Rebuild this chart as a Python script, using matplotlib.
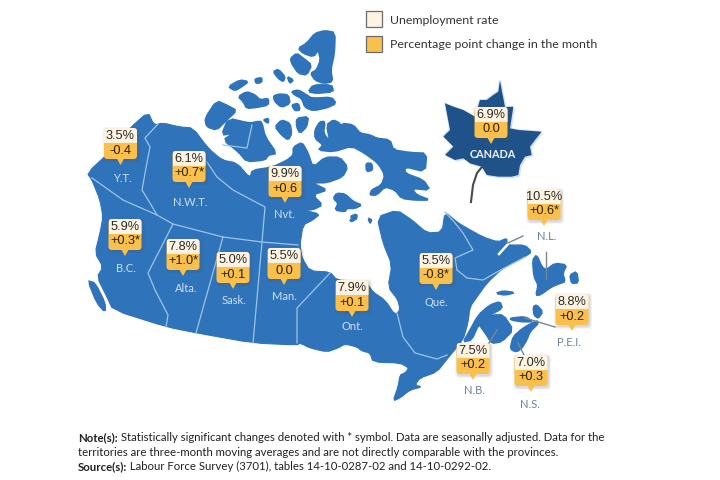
import matplotlib
matplotlib.use("Agg")
import matplotlib.pyplot as plt
from matplotlib.patches import Polygon, FancyBboxPatch, Rectangle

# labour force numbers
regions = ["Y.T.", "N.W.T.", "Nvt.", "B.C.", "Alta.", "Sask.", "Man.", "Ont.", "Que.", "N.B.", "N.S.", "P.E.I.", "N.L."]
rates = ["3.5%", "6.1%", "9.9%", "5.9%", "7.8%", "5.0%", "5.5%", "7.9%", "5.5%", "7.5%", "7.0%", "8.8%", "10.5%"]
changes = ["-0.4", "+0.7*", "+0.6", "+0.3*", "+1.0*", "+0.1", "0.0", "+0.1", "-0.8*", "+0.2", "+0.3", "+0.2", "+0.6*"]
canada_rate = "6.9%"
canada_change = "0.0"

# callout centre x, callout top y, label x, label y (pixels)
callout_x = [120.5, 189, 285, 125, 183, 233, 284, 352, 436, 473, 531, 572, 544]
callout_y = [128, 151, 166, 219, 239, 252, 248, 280, 253, 343, 355, 294, 189]
label_x = [122, 190, 284, 126, 186, 234, 284, 352, 436, 474, 530, 569, 547]
label_y = [179, 203, 215, 268, 288, 301, 297, 326, 303, 391, 405, 343, 237]
dark_labels = ["N.B.", "N.S.", "P.E.I.", "N.L."]

BLUE = "#2f73ba"
LINE = "#9fc4e6"
CREAM = "#fdf3e0"
ORANGE = "#f9c04e"


def zoomed(x0, y0, pts, s=3):
    return [(x0 + x / s, y0 + y / s) for x, y in pts]


def rounded(pts):
    # one pass of corner cutting so the coast is not so angular
    out = []
    for i in range(len(pts)):
        a = pts[i]
        b = pts[(i + 1) % len(pts)]
        out.append((0.8 * a[0] + 0.2 * b[0], 0.8 * a[1] + 0.2 * b[1]))
        out.append((0.2 * a[0] + 0.8 * b[0], 0.2 * a[1] + 0.8 * b[1]))
    return out


mainland = [
    (87, 173), (112, 150), (130, 128), (148, 112), (154, 125), (163, 123), (180, 127), (193, 128),
    (208, 148), (222, 160), (237, 163), (250, 178), (252, 170), (272, 167), (287, 160), (293, 155),
    (293, 147), (302, 142), (308, 152), (313, 167), (325, 157), (340, 157), (348, 167), (343, 177),
    (327, 183), (313, 183), (328, 190), (313, 195), (323, 205), (313, 210), (303, 210), (320, 214),
    (313, 220), (303, 225), (300, 245), (302, 258), (310, 271), (330, 272), (337, 280), (355, 281),
    (367, 283), (373, 292), (385, 300), (395, 315), (400, 310), (398, 300), (388, 287), (392, 265),
    (383, 243), (377, 217), (397, 210), (412, 220), (427, 233), (442, 232), (445, 212), (457, 222),
    (465, 227), (483, 237), (498, 242), (507, 238), (507, 245), (525, 245), (532, 252), (523, 258),
    (503, 268), (487, 283), (477, 297), (470, 307), (468, 323), (463, 340), (448, 358), (437, 372),
    (420, 378), (415, 385), (422, 387), (410, 390), (400, 398), (393, 401), (398, 387), (400, 375),
    (405, 373), (409, 368), (400, 363), (373, 362), (370, 353), (362, 351), (357, 347), (345, 344),
    (338, 348), (327, 352), (310, 348), (300, 343), (297, 345), (253, 343), (197, 333), (167, 327),
    (113, 310), (107, 297), (97, 277), (103, 267), (95, 253), (100, 233), (103, 217), (100, 200),
    (92, 180),
]
islands = [
    # vancouver island
    [(88, 281), (95, 283), (105, 303), (105, 312), (97, 303)],
    # arctic
    zoomed(200, 20, [(295, 85), (320, 70), (345, 40), (375, 32), (405, 38), (403, 100), (392, 150), (398, 185),
                     (370, 190), (345, 180), (332, 160), (350, 150), (362, 120), (355, 90), (340, 110), (310, 100)]),
    zoomed(200, 20, [(272, 115), (290, 100), (310, 115), (335, 135), (320, 165), (295, 160), (275, 130)]),
    zoomed(200, 20, [(325, 215), (340, 195), (395, 195), (400, 215), (350, 220)]),
    zoomed(200, 20, [(275, 215), (295, 210), (320, 225), (335, 235), (395, 232), (408, 250), (385, 262), (340, 272),
                     (315, 262), (305, 235), (285, 225)]),
    zoomed(200, 20, [(115, 230), (140, 215), (165, 225), (180, 240), (205, 235), (205, 255), (170, 262), (140, 265), (130, 245)]),
    zoomed(200, 20, [(85, 200), (120, 180), (145, 185), (125, 200), (105, 212)]),
    zoomed(200, 20, [(165, 177), (185, 173), (185, 187), (168, 190)]),
    zoomed(200, 20, [(220, 155), (235, 148), (255, 170), (250, 185), (235, 175)]),
    zoomed(200, 20, [(262, 170), (280, 180), (270, 190)]),
    zoomed(200, 20, [(220, 228), (240, 222), (265, 225), (270, 250), (245, 262), (225, 245)]),
    zoomed(200, 20, [(275, 255), (295, 250), (300, 270), (285, 272)]),
    zoomed(200, 20, [(15, 295), (50, 242), (85, 258), (110, 272), (80, 300), (50, 330), (20, 320)]),
    zoomed(200, 110, [(65, 75), (85, 25), (150, 40), (170, 35), (185, 35), (195, 80), (230, 130), (205, 135), (195, 150),
                      (140, 155), (115, 125), (70, 90), (100, 70)]),
    zoomed(200, 110, [(190, 30), (205, 25), (205, 40)]),
    zoomed(200, 110, [(225, 50), (245, 30), (270, 40), (275, 70), (265, 90), (245, 75)]),
    zoomed(200, 110, [(290, 25), (325, 20), (320, 50), (300, 70), (290, 50)]),
    zoomed(290, 110, [(75, 60), (90, 35), (105, 35), (100, 70), (120, 95), (110, 45), (130, 30), (150, 40), (160, 65),
                      (155, 40), (190, 45), (210, 70), (240, 75), (260, 85), (300, 90), (310, 120), (360, 128), (410, 130),
                      (405, 185), (345, 170), (345, 190), (400, 210), (420, 240), (365, 235), (380, 255), (420, 270), (375, 270),
                      (335, 265), (315, 240), (285, 230), (260, 255), (240, 255), (245, 240), (275, 225), (285, 195), (265, 160),
                      (225, 130), (185, 108), (130, 125), (85, 120), (100, 105), (75, 85)]),
    zoomed(290, 110, [(228, 160), (245, 160), (248, 180), (230, 185)]),
    zoomed(290, 110, [(130, 265), (140, 250), (165, 252), (190, 275), (215, 285), (195, 295), (170, 295), (165, 305), (135, 300), (145, 280)]),
    zoomed(290, 110, [(180, 320), (200, 312), (198, 330)]),
    zoomed(340, 200, [(30, 60), (50, 45), (50, 55), (35, 65)]),
    zoomed(340, 200, [(85, 55), (95, 60), (90, 70)]),
    # atlantic
    zoomed(340, 200, [(385, 400), (415, 345), (450, 315), (480, 305), (487, 325), (450, 345), (415, 375), (395, 420), (370, 425)]),
    zoomed(460, 240, [(55, 240), (100, 225), (130, 225), (160, 270), (125, 305), (95, 310), (80, 285), (55, 250)]),
    zoomed(460, 240, [(150, 235), (195, 230), (220, 245), (185, 245), (155, 240)]),
    zoomed(460, 240, [(220, 200), (230, 195), (248, 215), (235, 235), (222, 225)]),
    zoomed(340, 200, [(512, 440), (520, 410), (548, 385), (590, 362), (595, 370), (570, 395), (560, 420), (545, 445), (530, 455), (515, 450)]),
    zoomed(460, 240, [(218, 60), (230, 45), (245, 80), (258, 90), (285, 70), (320, 75), (308, 100), (315, 125), (300, 130),
                      (275, 140), (240, 165), (228, 165), (235, 135), (222, 110)]),
    zoomed(460, 240, [(330, 105), (350, 95), (355, 128), (335, 130)]),
    zoomed(460, 240, [(108, 160), (130, 153), (165, 158), (135, 165)]),
]
borders = [
    [(158, 124), (145, 138), (150, 147), (148, 157), (142, 190), (150, 203), (157, 215)],
    [(92, 178), (123, 200), (157, 215), (173, 224), (223, 237), (262, 242), (298, 245)],
    [(207, 162), (217, 177), (233, 190), (265, 207), (262, 242), (253, 343)],
    [(173, 224), (148, 273), (155, 290), (168, 315), (166, 327)],
    [(223, 237), (196, 333)],
    [(330, 273), (297, 308), (297, 343)],
    [(397, 313), (403, 337), (415, 353), (437, 359), (447, 355)],
    [(445, 212), (455, 223), (463, 233), (473, 250), (455, 258), (457, 270), (467, 278), (483, 280), (497, 272), (525, 257)],
    [(252, 125), (247, 148), (223, 145)],
]
leaders = [
    [(523, 236), (508, 243)],
    [(546, 252), (546, 279)],
    [(525, 318), (555, 327)],
    [(497, 330), (489, 343)],
    [(518, 343), (524, 355)],
]
leaf = zoomed(430, 75, [(210, 15), (216, 50), (222, 80), (225, 97), (250, 95), (240, 160), (265, 165), (335, 170), (315, 195),
                        (300, 215), (305, 240), (285, 245), (270, 270), (265, 300), (245, 305), (205, 305), (170, 300), (155, 275),
                        (120, 265), (100, 250), (75, 255), (45, 240), (70, 215), (40, 185), (60, 165), (45, 85), (70, 95), (100, 105),
                        (135, 125), (150, 75), (170, 75), (190, 60), (205, 50)])

fig = plt.figure(figsize=(7.2, 4.8), dpi=100)
ax = fig.add_axes([0, 0, 1, 1])
ax.set_xlim(0, 720)
ax.set_ylim(480, 0)
ax.axis("off")

ax.add_patch(Polygon(rounded(mainland), closed=True, fc=BLUE, ec=BLUE, lw=0.8, zorder=2))
for isl in islands:
    ax.add_patch(Polygon(rounded(isl), closed=True, fc=BLUE, ec=BLUE, lw=1.3, zorder=2))
for b in borders:
    ax.plot([p[0] for p in b], [p[1] for p in b], color=LINE, lw=0.9, zorder=3)
# hamilton inlet
ax.plot([499, 509], [254, 243], color="white", lw=1.8, zorder=3)
for l in leaders:
    ax.plot([p[0] for p in l], [p[1] for p in l], color="#77879a", lw=1.0, zorder=3)

# maple leaf with its pale edge
ax.add_patch(Polygon([(x + 1.5, y + 1.5) for x, y in leaf], closed=True, fc="#cfe0f0", ec="none", zorder=2))
ax.add_patch(Polygon([(x - 1, y - 1) for x, y in leaf], closed=True, fc="#d5e3f1", ec="none", zorder=2))
ax.add_patch(Polygon(leaf, closed=True, fc="#1f5288", ec="none", zorder=3))
ax.plot([482, 477, 473, 471], [167, 173, 185, 202], color="#454a50", lw=1.5, zorder=3)
ax.text(493, 154, "CANADA", color="#f2f5f8", fontsize=7.8, fontweight="bold", family="Lato", ha="center", va="center", zorder=4)


def callout(cx, top, rate, change):
    w, h = 33, 31
    x0 = cx - w / 2
    for grow, a in [(2.5, 0.06), (1.5, 0.08), (0.7, 0.1)]:
        ax.add_patch(FancyBboxPatch((x0 + 1.2 - grow, top + 1.5 - grow), w + 2 * grow, h + 2 * grow,
                                    boxstyle="round,pad=0,rounding_size=4", fc="#555555", ec="none", alpha=a, zorder=5))
    box = FancyBboxPatch((x0, top), w, h, boxstyle="round,pad=0,rounding_size=3.5", fc=ORANGE, ec="none", zorder=6)
    ax.add_patch(box)
    ax.add_patch(Polygon([(cx - 4, top + h - 1), (cx + 4, top + h - 1), (cx, top + h + 6)], closed=True, fc=ORANGE, ec="none", zorder=6))
    cream = Rectangle((x0, top), w, 15, fc=CREAM, ec="none", zorder=7)
    ax.add_patch(cream)
    cream.set_clip_path(box)
    ax.text(cx, top + 8, rate, fontsize=9.2, family="Liberation Sans", color="#2b2b2b", ha="center", va="center", zorder=8)
    ax.text(cx, top + 22.5, change, fontsize=9.2, family="Liberation Sans", color="#2b2000", ha="center", va="center", zorder=8)


for i in range(len(regions)):
    callout(callout_x[i], callout_y[i], rates[i], changes[i])
    col = "#6f8298" if regions[i] in dark_labels else "#cfe1f2"
    ax.text(label_x[i], label_y[i], regions[i], fontsize=8, family="Lato", color=col, ha="center", va="center", zorder=4)
callout(491, 107, canada_rate, canada_change)

# legend
ax.add_patch(Rectangle((366, 11), 16, 16, fc=CREAM, ec="#6b6b6b", lw=0.9, zorder=5))
ax.add_patch(Rectangle((366, 36), 16, 16, fc=ORANGE, ec="#6b6b6b", lw=0.9, zorder=5))
ax.text(390, 20, "Unemployment rate", fontsize=8.9, family="Lato", color="#333333", va="center")
ax.text(390, 44.5, "Percentage point change in the month", fontsize=8.9, family="Lato", color="#333333", va="center")

# notes, bold lead-in then the rest of the line on the same baseline
note_font = dict(fontsize=8.2, family="Lato", color="#222222", va="baseline")
renderer = fig.canvas.get_renderer()


def note_line(y, bold, rest):
    t = ax.text(78, y, bold, fontweight="bold", **note_font)
    end = ax.transData.inverted().transform(t.get_window_extent(renderer).max)[0]
    ax.text(end, y, rest, **note_font)


note_line(441, "Note(s):", " Statistically significant changes denoted with * symbol. Data are seasonally adjusted. Data for the")
ax.text(78, 456, "territories are three-month moving averages and are not directly comparable with the provinces.", **note_font)
note_line(470.5, "Source(s):", " Labour Force Survey (3701), tables 14-10-0287-02 and 14-10-0292-02.")

fig.savefig("out.png", dpi=100)
